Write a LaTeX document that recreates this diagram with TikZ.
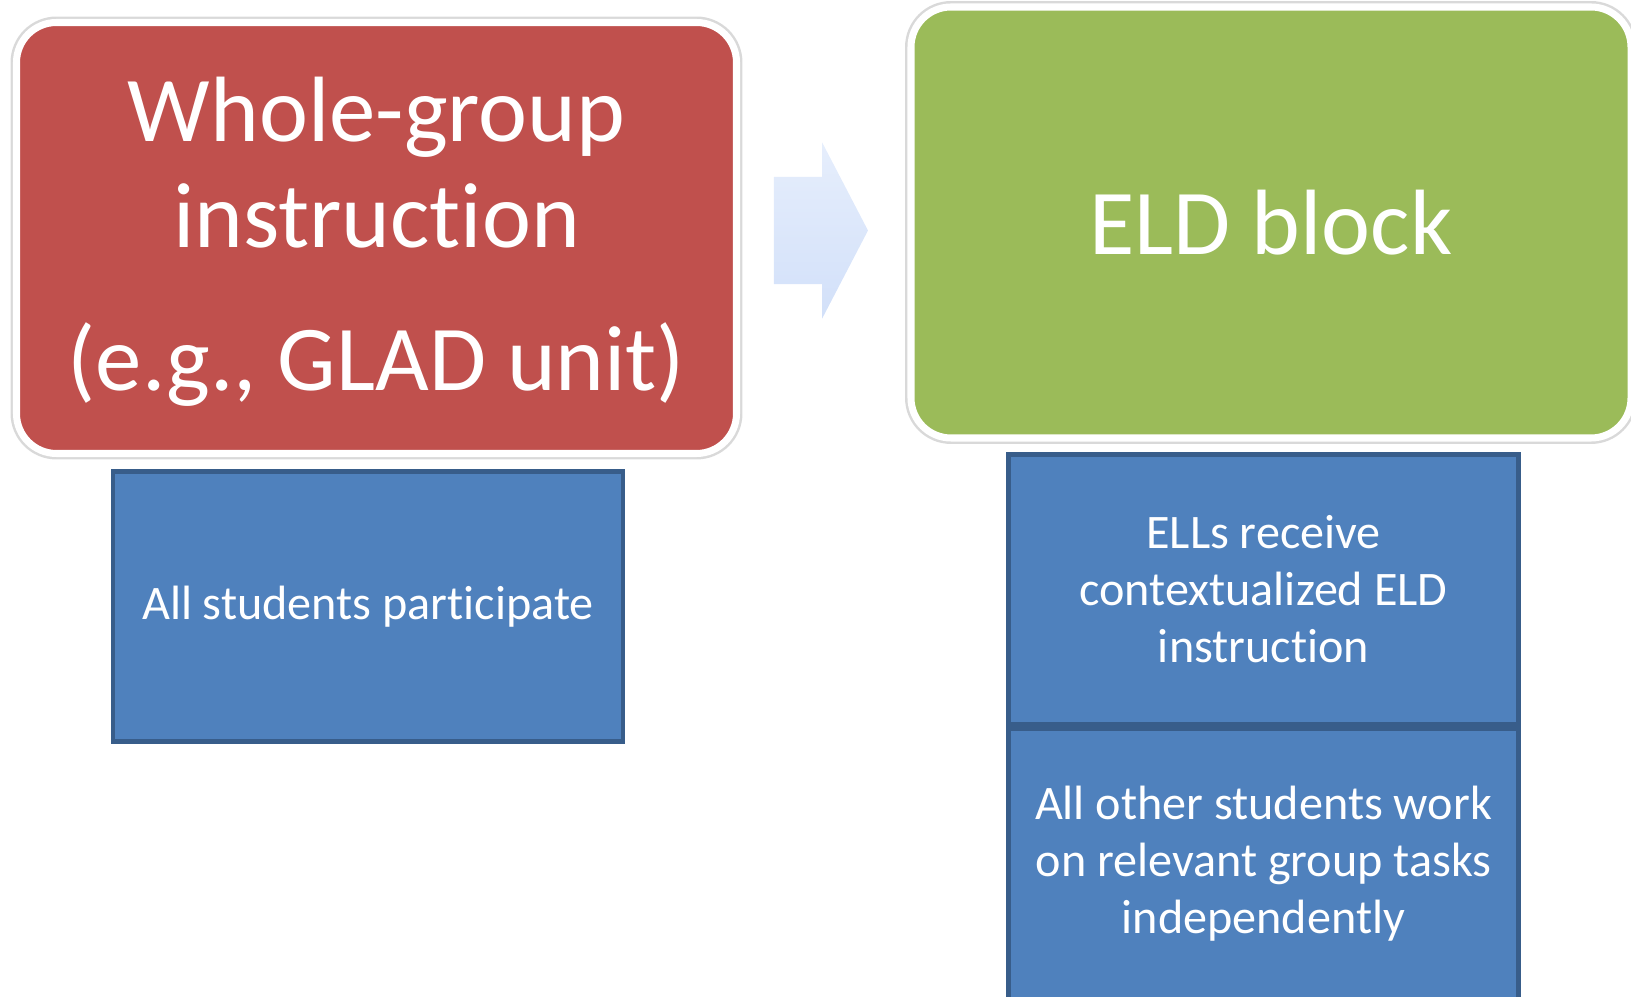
\documentclass[tikz,border=0pt]{standalone}
\usepackage{fontspec}
\setmainfont{Carlito}[Ligatures=NoCommon]
\usetikzlibrary{positioning,shapes.arrows}
\definecolor{boxred}{HTML}{C0504D}
\definecolor{boxgreen}{HTML}{9BBB59}
\definecolor{boxblue}{HTML}{4F81BD}
\definecolor{boxedge}{HTML}{385D8A}
\definecolor{arrowtop}{HTML}{E6EEFC}
\definecolor{arrowbottom}{HTML}{D2E0F9}
\tikzset{
    phase/.style = {rectangle, rounded corners=0.4cm, draw=white, line width=2pt,
        preaction={draw=black!15, line width=3.4pt},
        minimum width=7.2cm, minimum height=4.31cm, text=white, align=center,
        font=\fontsize{26.4}{30.2}\selectfont},
    detail/.style = {rectangle, fill=boxblue, draw=boxedge, line width=1.2pt,
        minimum width=5.1cm, minimum height=2.7cm, text=white, align=center,
        font=\fontsize{13.7}{16.2}\selectfont},
    go/.style = {single arrow, draw=none, top color=arrowtop, bottom color=arrowbottom,
        minimum height=0.94cm, inner xsep=0pt, inner ysep=0.53cm,
        single arrow head extend=0.345cm, single arrow tip angle=125}
}

\begin{document}
\begin{tikzpicture}
    \useasboundingbox (0, 0) rectangle (16.31, -9.97);

    \node[phase, fill=boxred, text depth=0.09cm] (whole) at (3.765, -2.38) {Whole-group\\instruction\\[10.4pt](e.g., GLAD unit)};
    \node[phase, fill=boxgreen] (eld) at (12.71, -2.225) {ELD block};
    \node[go] (next) at (8.07, -2.305) {};

    \node[detail] (all) at (3.68, -6.065) {All students participate};
    \node[detail] (ells) at (12.635, -5.895) {ELLs receive\\contextualized ELD\\instruction};
    \node[detail, below=0pt of ells] (others) {All other students work\\on relevant group tasks\\independently};
\end{tikzpicture}
\end{document}
